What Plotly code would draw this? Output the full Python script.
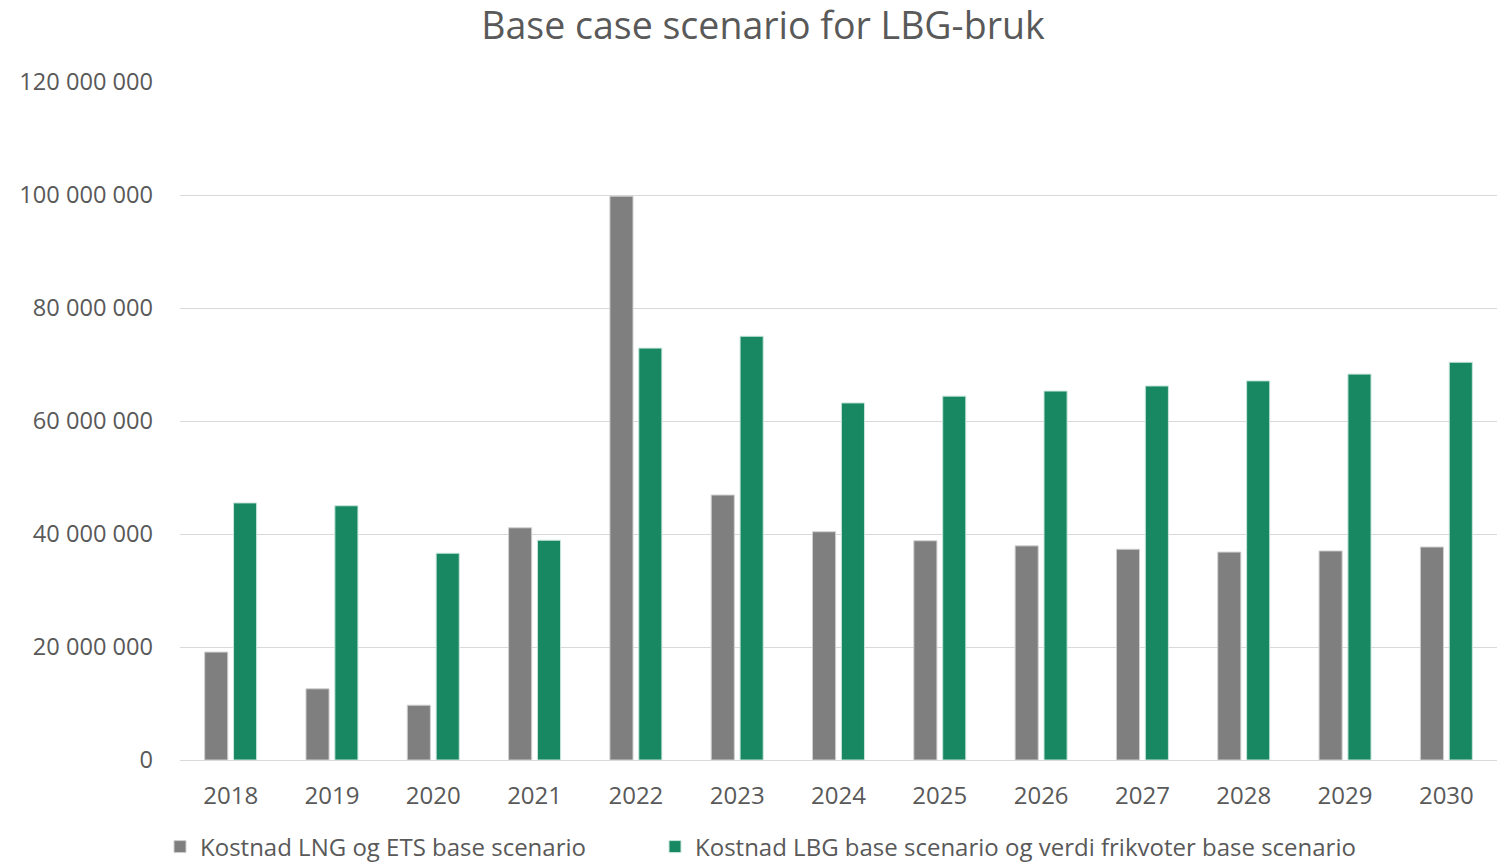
import plotly.graph_objects as go

years = ["2018", "2019", "2020", "2021", "2022", "2023", "2024",
         "2025", "2026", "2027", "2028", "2029", "2030"]
lng_ets = [19.1e6, 12.6e6, 9.7e6, 41.1e6, 99.8e6, 46.9e6, 40.4e6,
           38.8e6, 37.9e6, 37.3e6, 36.8e6, 37.0e6, 37.7e6]
lbg_frikvoter = [45.5e6, 45.0e6, 36.6e6, 38.9e6, 72.9e6, 75.0e6, 63.2e6,
                 64.4e6, 65.3e6, 66.2e6, 67.1e6, 68.3e6, 70.4e6]
y_ticks = [0, 20e6, 40e6, 60e6, 80e6, 100e6, 120e6]
y_tick_labels = ["0", "20 000 000", "40 000 000", "60 000 000",
                 "80 000 000", "100 000 000", "120 000 000"]

txt = "#595959"
font = "Open Sans"

fig = go.Figure()
fig.add_trace(go.Bar(
    x=years, y=lng_ets, name="Kostnad LNG og ETS base scenario",
    marker=dict(color="#7f7f7f", line=dict(color="#d0d0d0", width=1)),
    legend="legend",
))
fig.add_trace(go.Bar(
    x=years, y=lbg_frikvoter,
    name="Kostnad LBG base scenario og verdi frikvoter base scenario",
    marker=dict(color="#188863", line=dict(color="#c8e6da", width=1)),
    legend="legend2",
))

leg_common = dict(orientation="h", xref="container", yref="container",
                  xanchor="left", y=1 - 847 / 864, yanchor="middle",
                  font=dict(family=font, size=24, color=txt),
                  bgcolor="rgba(0,0,0,0)", borderwidth=0)

fig.update_layout(
    width=1499, height=864,
    margin=dict(l=180, r=2, t=82, b=104),
    paper_bgcolor="white", plot_bgcolor="white",
    font=dict(family=font, color=txt, size=24),
    title=dict(text="Base case scenario for LBG-bruk", x=0.509, xanchor="center",
               y=1 - 26 / 864, yanchor="middle",
               font=dict(family=font, size=37.5, color=txt)),
    barmode="group", bargap=0.43, bargroupgap=0.2,
    showlegend=True,
    legend=dict(x=160 / 1499, **leg_common),
    legend2=dict(x=655 / 1499, **leg_common),
    xaxis=dict(showgrid=False, showline=False, ticks="",
               tickfont=dict(family=font, size=24, color=txt),
               ticklabelstandoff=19),
    yaxis=dict(range=[0, 120e6], tickvals=y_ticks, ticktext=y_tick_labels,
               showgrid=True, gridcolor="#d9d9d9", gridwidth=1.3,
               zeroline=True, zerolinecolor="#d9d9d9", zerolinewidth=1.3,
               showline=False, ticks="",
               tickfont=dict(family=font, size=23.6, color=txt),
               ticklabelstandoff=26),
)

fig.write_html("out.html", config={"displayModeBar": False},
               post_script="document.body.style.margin='0';")
